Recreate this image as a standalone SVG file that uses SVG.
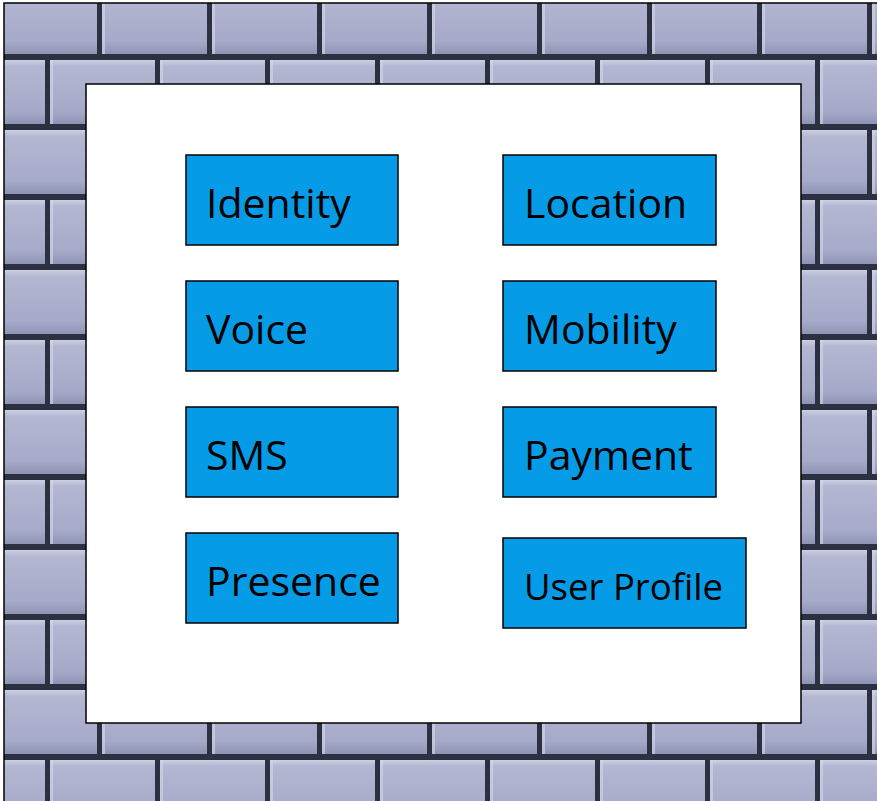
<svg xmlns="http://www.w3.org/2000/svg" width="877" height="801" viewBox="0 0 877 801">
  <defs>
    <linearGradient id="brickGrad" x1="0" y1="0" x2="0" y2="1">
      <stop offset="0" stop-color="#cdd0e3"/>
      <stop offset="0.1" stop-color="#b3b7d2"/>
      <stop offset="0.8" stop-color="#a6aac9"/>
      <stop offset="1" stop-color="#9094b4"/>
    </linearGradient>
    <pattern id="bricks" patternUnits="userSpaceOnUse" x="-10" y="-10" width="110" height="140">
      <rect x="0" y="0" width="110" height="140" fill="#2c3142"/>
      <g fill="url(#brickGrad)">
        <rect x="2" y="0" width="105" height="64"/>
        <rect x="-50" y="70" width="105" height="64"/>
        <rect x="60" y="70" width="105" height="64"/>
      </g>
      <g fill="#d6d8e8" opacity="0.6">
        <rect x="2" y="0" width="3" height="64"/>
        <rect x="60" y="70" width="3" height="64"/>
      </g>
    </pattern>
    <style>
      .node rect { fill: #069be6; stroke: #000; stroke-width: 1.5; }
      .node text { font-family: "Open Sans", "Liberation Sans", sans-serif; font-size: 41px; fill: #000; }
      .node text.small { font-size: 36.5px; }
    </style>
  </defs>
  <rect x="0" y="0" width="877" height="801" fill="#ffffff"/>
  <rect x="4" y="3" width="880" height="810" fill="url(#bricks)" stroke="#000" stroke-width="1.5"/>
  <rect id="panel" x="86" y="84" width="715" height="639" fill="#ffffff" stroke="#000" stroke-width="1.5"/>
  <g id="connectors"/>
  <g id="identity" class="node"><rect x="186" y="155" width="212" height="90"/><text x="206" y="218">Identity</text></g>
  <g id="voice" class="node"><rect x="186" y="281" width="212" height="90"/><text x="206" y="344">Voice</text></g>
  <g id="sms" class="node"><rect x="186" y="407" width="212" height="90"/><text x="206" y="470">SMS</text></g>
  <g id="presence" class="node"><rect x="186" y="533" width="212" height="90"/><text x="206" y="596">Presence</text></g>
  <g id="location" class="node"><rect x="503" y="155" width="213" height="90"/><text x="524" y="218">Location</text></g>
  <g id="mobility" class="node"><rect x="503" y="281" width="213" height="90"/><text x="524" y="344">Mobility</text></g>
  <g id="payment" class="node"><rect x="503" y="407" width="213" height="90"/><text x="524" y="470">Payment</text></g>
  <g id="userprofile" class="node"><rect x="503" y="538" width="243" height="90"/><text class="small" x="524" y="600">User Profile</text></g>
</svg>
